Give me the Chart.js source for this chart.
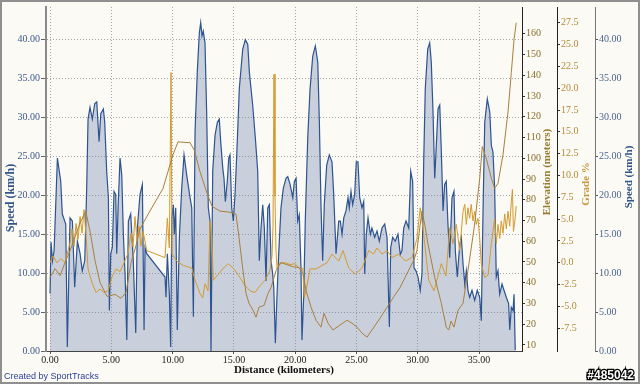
<!DOCTYPE html>
<html>
<head>
<meta charset="utf-8">
<script src="https://cdn.jsdelivr.net/npm/chart.js@4.4.0/dist/chart.umd.min.js"></script>
<style>
  html, body { margin: 0; padding: 0; background: #fbfaf4; }
</style>
</head>
<body>
<canvas id="myChart" width="640" height="384"></canvas>
<script>
// tick labels
const distTicks = [0, 5, 10, 15, 20, 25, 30, 35];
const speedTicks = [0, 5, 10, 15, 20, 25, 30, 35, 40];
const elevTicks = [10, 20, 30, 40, 50, 60, 70, 80, 90, 100, 110, 120, 130, 140, 150, 160];
const gradeTicks = [-7.5, -5, -2.5, 0, 2.5, 5, 7.5, 10, 12.5, 15, 17.5, 20, 22.5, 25, 27.5];

// speed (km/h) vs distance (km)
const speedKm = [0.00,0.08,0.20,0.33,0.60,0.87,1.00,1.28,1.41,1.63,1.82,2.01,2.23,2.45,2.63,2.83,2.99,3.10,3.26,3.45,3.65,3.81,4.00,4.14,4.35,4.46,4.62,4.76,4.84,4.95,
  5.08,5.22,5.36,5.44,5.55,5.71,5.85,5.98,6.12,6.26,6.39,6.58,6.79,6.99,7.12,7.34,7.53,7.67,7.75,7.89,9.38,9.46,9.57,9.73,9.84,9.93,
  10.06,10.14,10.25,10.38,10.55,10.74,10.93,11.15,11.42,11.56,11.69,11.83,12.01,12.18,12.29,12.40,12.50,12.64,12.78,12.91,13.05,13.13,13.27,13.46,13.65,13.81,13.92,
  14.09,14.19,14.30,14.46,14.58,14.68,14.82,14.95,15.09,15.23,15.44,15.72,15.93,16.13,16.26,16.53,16.75,16.94,17.07,17.21,17.35,17.48,17.62,17.76,17.89,
  18.03,18.16,18.25,18.38,18.49,18.65,18.84,19.03,19.25,19.39,19.58,19.80,19.93,20.07,20.20,20.33,20.47,20.55,20.69,20.82,21.02,21.21,21.43,21.64,21.84,21.97,
  22.10,22.24,22.37,22.57,22.78,23.00,23.14,23.33,23.55,23.68,23.82,23.96,24.14,24.31,24.41,24.55,24.69,24.85,24.98,25.12,25.26,25.45,25.59,25.67,25.80,25.94,
  26.13,26.26,26.48,26.67,26.86,27.08,27.30,27.49,27.68,27.79,27.95,28.16,28.38,28.57,28.71,28.85,29.04,29.26,29.42,29.58,29.69,29.85,
  30.02,30.20,30.34,30.48,30.61,30.81,30.97,31.10,31.24,31.38,31.51,31.65,31.79,31.92,32.06,32.19,32.32,32.46,32.60,32.79,32.95,33.06,33.22,33.42,33.55,33.69,33.83,33.96,
  34.09,34.23,34.42,34.64,34.85,35.05,35.18,35.32,35.46,35.67,35.87,36.00,36.13,36.27,36.40,36.54,36.68,36.87,37.03,37.22,37.41,37.50,37.63,37.77,37.85,37.95];
const speedVal = [7.4,14.0,11.6,12.9,24.8,21.8,17.6,16.3,0.5,17.1,16.7,8.2,14.1,12.5,10.3,11.6,20.9,29.8,31.3,29.8,31.8,32.0,26.9,30.5,31.1,29.4,23.1,19.7,5.2,12.5,
  13.3,20.5,20.1,12.5,18.4,24.8,22.6,15.0,9.9,1.4,16.7,17.6,11.6,2.3,15.8,20.1,21.4,2.7,13.3,12.5,9.5,6.9,12.5,7.4,0.5,17.1,
  18.8,15.0,18.4,2.7,14.6,20.9,25.2,22.6,19.7,18.4,4.4,28.2,35.8,40.9,42.2,40.5,41.1,39.6,30.3,18.4,16.7,0,23.1,27.7,29.4,29.8,26.9,
  23.5,22.2,19.2,21.8,24.8,25.2,18.4,16.7,20.1,25.2,33.7,38.8,40.0,39.4,35.8,31.6,27.3,23.1,11.6,15.8,18.8,15.8,9.0,18.4,18.8,
  11.6,9.9,8.2,1.0,6.1,12.4,18.4,20.9,22.2,22.4,21.4,19.7,21.8,22.2,16.7,17.5,10.7,1.4,6.9,16.7,27.3,33.7,37.9,39.2,37.1,29.4,
  18.8,11.6,18.8,23.9,25.2,24.3,20.1,12.5,16.7,16.7,15.0,17.1,18.0,19.7,18.4,20.5,18.8,20.1,24.3,24.3,19.7,18.4,19.2,9.9,15.0,17.1,
  15.0,15.8,14.6,15.4,14.1,15.8,16.3,14.6,3.1,13.3,14.6,14.1,15.0,12.4,12.9,15.8,16.7,15.8,23.1,21.8,10.7,10.3,
  9.5,7.8,9.9,24.3,33.7,38.8,39.6,37.1,30.7,22.2,26.4,31.1,31.6,25.6,18.0,21.4,21.8,16.3,12.0,19.7,20.5,12.9,9.5,13.7,14.6,11.2,8.6,10.3,
  7.8,6.9,7.8,6.5,7.8,6.9,3.9,18.0,29.4,32.4,30.7,26.4,25.6,20.9,9.5,10.3,7.3,8.6,7.8,6.9,6.1,2.7,5.6,5.2,7.3,0.1];

// elevation (meters) vs distance (km)
const elevKm = [0.00,0.41,0.82,1.22,1.63,2.04,2.45,2.91,3.26,3.67,4.08,4.65,5.30,5.79,6.20,6.61,7.01,7.34,7.91,9.22,9.62,10.03,10.44,11.42,11.75,
  12.23,12.81,13.21,13.87,14.68,15.17,15.42,15.74,15.99,16.23,16.56,16.80,17.05,17.46,17.78,18.03,18.43,18.84,19.33,19.82,20.31,20.64,20.88,
  21.29,21.70,22.10,22.35,22.68,23.08,23.65,24.23,24.63,25.04,25.45,25.86,26.26,26.92,27.49,28.06,28.55,28.96,29.36,29.69,29.93,30.18,30.34,
  30.59,30.83,31.38,31.92,32.32,32.52,32.71,32.95,33.28,33.69,34.09,34.64,35.05,35.26,35.59,36.00,36.27,36.54,36.95,37.36,37.63,37.85,38.03];
const elevVal = [42.5,46.8,43.4,49.7,55.4,62.1,68.8,74.5,64.9,50.6,40.1,33.4,34.4,32.5,35.3,49.7,57.8,65.9,72.1,85.5,93.6,101.7,107.9,107.5,104.1,
  93.6,83.1,76.9,74.5,74.0,73.1,61.6,45.8,34.8,30.1,26.7,23.4,28.2,29.1,34.8,37.7,45.8,49.7,48.7,47.7,47.3,44.4,36.3,
  28.2,21.9,18.6,25.3,20.5,17.2,19.6,21.9,20.5,18.6,15.7,13.8,17.2,22.9,28.2,33.4,37.7,42.5,47.3,51.1,55.4,67.3,74.5,
  67.3,58.7,42.5,30.1,18.6,17.2,21.5,18.6,26.7,30.1,45.8,68.3,90.3,105.6,99.8,90.3,85.5,87.9,101.7,122.3,141.4,157.2,165.3];

// grade (%) vs distance (km)
const gradeKm = [0.00,0.24,0.57,0.90,1.22,1.47,1.63,1.79,1.96,2.12,2.28,2.45,2.61,2.77,2.94,3.10,3.43,3.75,4.08,4.40,4.73,5.06,5.38,5.71,6.04,6.36,
  6.61,6.77,6.93,7.10,7.26,7.42,7.59,7.89,9.38,9.57,9.73,9.87,9.95,10.33,10.87,11.56,11.83,12.23,12.46,12.64,12.89,13.05,13.17,13.32,13.73,
  14.14,14.54,14.95,15.50,15.91,16.31,16.72,17.13,17.54,17.94,18.11,18.19,18.27,18.35,18.43,18.52,18.76,19.17,19.58,19.98,20.39,20.61,20.74,
  20.96,21.21,21.70,22.19,22.59,23.00,23.55,23.90,24.36,24.90,25.45,26.00,26.40,26.67,27.08,27.49,27.90,28.44,28.98,29.53,29.93,30.20,30.48,
  30.89,31.32,31.92,32.30,32.60,32.87,33.14,33.42,33.69,33.83,33.96,34.09,34.23,34.36,34.50,34.64,34.77,34.91,35.05,35.18,35.46,35.73,
  36.00,36.27,36.40,36.54,36.68,36.81,36.95,37.09,37.22,37.36,37.50,37.63,37.72,37.80,37.92,38.03];
const gradeVal = [0,0.8,0,0.5,0,1.4,2.3,3.9,1.9,4.5,2.7,5.3,3.4,6.1,3.1,-0.7,-2.3,-3.4,-3.0,-3.4,-3.2,-1.6,-0.7,-1.0,0,1.1,
  3.4,1.8,5.3,2.5,4.2,1.9,3.6,1.4,0.6,5.1,1.7,21.8,1.0,0.2,-0.3,-0.6,-2.0,-3.5,-4.0,-2.4,-3.2,4.8,3.6,-2.0,-1.3,
  -0.6,-0.1,-0.6,-1.7,-2.6,-3.2,-3.4,-2.6,-2.0,-0.9,0.8,4.2,21.6,7.6,1.4,-0.7,0,0,-0.2,-0.1,-0.7,-0.6,-4.0,
  -2.6,-0.7,-0.7,-0.3,0,1.0,0.2,1.4,-0.6,-1.3,-0.6,1.4,1.0,1.7,1.0,1.4,0.6,1.0,0.2,0.6,2.8,6.3,3.3,
  -2.0,-3.2,-0.1,-1.5,4.0,2.2,4.4,1.4,5.9,6.7,4.4,6.3,5.1,6.7,4.8,5.9,4.4,5.1,2.8,-0.1,-1.7,-1.4,
  2.2,5.1,2.2,4.4,2.8,4.8,3.4,5.6,3.9,5.9,4.2,7.0,8.4,3.6,4.8,6.5];

const toPoints = (xs, ys) => xs.map((x, i) => ({ x: x, y: ys[i] }));

const serif = "'Liberation Serif', 'DejaVu Serif', serif";
const tickFont = { family: serif, size: 10 };

// fondo
const bgPlugin = {
  id: "bg",
  beforeDraw(chart) {
    const ctx = chart.ctx;
    ctx.save();
    ctx.fillStyle = "#fbfaf4";
    ctx.fillRect(0, 0, chart.width, chart.height);
    ctx.restore();
  },
};

// titulos de ejes, pie y marco
const decoPlugin = {
  id: "deco",
  afterDraw(chart) {
    const ctx = chart.ctx;
    const area = chart.chartArea;
    const s = chart.scales;
    function vText(txt, x, y, color, size) {
      ctx.save();
      ctx.translate(x, y);
      ctx.rotate(-Math.PI / 2);
      ctx.fillStyle = color;
      ctx.font = "bold " + size + "px " + serif;
      ctx.textAlign = "center";
      ctx.textBaseline = "middle";
      ctx.fillText(txt, 0, 0);
      ctx.restore();
    }
    vText("Speed (km/h)", 11, 198, "#34558a", 12);
    vText("Elevation (meters)", s.yElev.left + 25, 172, "#9c7a30", 11);
    vText("Grade %", s.yGrade.left + 29, 184, "#c8963c", 11);
    vText("Speed (km/h)", s.ySpeed2.left + 34, 177, "#34558a", 11);

    ctx.save();
    ctx.fillStyle = "#111";
    ctx.font = "bold 11px " + serif;
    ctx.textAlign = "center";
    ctx.textBaseline = "middle";
    ctx.fillText("Distance (kilometers)", (area.left + area.right) / 2, 370);

    ctx.font = "9px 'Liberation Sans', sans-serif";
    ctx.textAlign = "left";
    ctx.fillStyle = "#2b3f9c";
    ctx.fillText("Created by SportTracks", 4, 377);

    ctx.font = "bold 12px 'Liberation Sans', sans-serif";
    ctx.textAlign = "right";
    ctx.lineWidth = 2.5;
    ctx.strokeStyle = "#000";
    ctx.strokeText("#485042", 634, 376);
    ctx.fillStyle = "#fff";
    ctx.fillText("#485042", 634, 376);

    ctx.strokeStyle = "#8f8f8f";
    ctx.lineWidth = 2;
    ctx.strokeRect(1, 1, chart.width - 2, chart.height - 2);
    ctx.restore();
  },
};

function fixTicks(list) {
  return function (scale) {
    scale.ticks = list.map((v) => ({ value: v }));
  };
}

const ctx = document.getElementById("myChart").getContext("2d");
new Chart(ctx, {
  type: "line",
  data: {
    datasets: [
      {
        label: "Elevation",
        data: toPoints(elevKm, elevVal),
        yAxisID: "yElev",
        borderColor: "#a8803c",
        borderWidth: 1,
        pointRadius: 0,
        fill: false,
        order: 1,
      },
      {
        label: "Grade",
        data: toPoints(gradeKm, gradeVal),
        yAxisID: "yGrade",
        borderColor: "#d49a2e",
        borderWidth: 1,
        pointRadius: 0,
        fill: false,
        order: 2,
      },
      {
        label: "Speed",
        data: toPoints(speedKm, speedVal),
        yAxisID: "ySpeed",
        borderColor: "#2d5391",
        backgroundColor: "rgba(110,130,175,0.35)",
        borderWidth: 1.2,
        pointRadius: 0,
        fill: "origin",
        order: 3,
      },
    ],
  },
  options: {
    responsive: false,
    animation: false,
    devicePixelRatio: 1,
    layout: { padding: { top: 4, left: 0, right: 0, bottom: 0 } },
    plugins: { legend: { display: false }, tooltip: { enabled: false } },
    scales: {
      x: {
        type: "linear",
        position: "bottom",
        min: -0.33,
        max: 38.5,
        afterBuildTicks: fixTicks(distTicks),
        afterFit: (s) => { s.height = 33; },
        ticks: { font: tickFont, color: "#222", padding: 0, maxRotation: 0, autoSkip: false, callback: (v) => v.toFixed(2) },
        grid: { color: "#a5a5a5", tickColor: "#555", tickLength: 3, tickBorderDash: [] },
        border: { color: "#444", width: 1, dash: [1, 2] },
      },
      ySpeed: {
        type: "linear",
        position: "left",
        min: 0,
        max: 44.2,
        afterBuildTicks: fixTicks(speedTicks),
        afterFit: (s) => { s.width = 46; },
        ticks: { font: tickFont, color: "#3b5a8c", padding: 1, callback: (v) => v.toFixed(2) },
        grid: { color: "#a5a5a5", tickColor: "#666", tickLength: 5, tickBorderDash: [] },
        border: { color: "#8a8a8a", width: 2, dash: [1, 2] },
      },
      yElev: {
        type: "linear",
        position: "right",
        min: 7.1,
        max: 172.9,
        afterBuildTicks: fixTicks(elevTicks),
        afterFit: (s) => { s.width = 35; },
        ticks: { font: tickFont, color: "#8b6d2e", padding: 1, callback: (v) => String(v) },
        grid: { drawOnChartArea: false, tickColor: "#333", tickLength: 3 },
        border: { color: "#222", width: 1 },
      },
      yGrade: {
        type: "linear",
        position: "right",
        min: -10.1,
        max: 29.3,
        afterBuildTicks: fixTicks(gradeTicks),
        afterFit: (s) => { s.width = 38; },
        ticks: { font: tickFont, color: "#b48a3a", padding: 1, callback: (v) => v.toFixed(1) },
        grid: { drawOnChartArea: false, tickColor: "#333", tickLength: 3 },
        border: { color: "#222", width: 1 },
      },
      ySpeed2: {
        type: "linear",
        position: "right",
        min: 0,
        max: 44.2,
        afterBuildTicks: fixTicks(speedTicks),
        afterFit: (s) => { s.width = 45; },
        ticks: { font: tickFont, color: "#4a6590", padding: 1, callback: (v) => v.toFixed(2) },
        grid: { drawOnChartArea: false, tickColor: "#555", tickLength: 3 },
        border: { color: "#777", width: 1 },
      },
    },
  },
  plugins: [bgPlugin, decoPlugin],
});
</script>
</body>
</html>
